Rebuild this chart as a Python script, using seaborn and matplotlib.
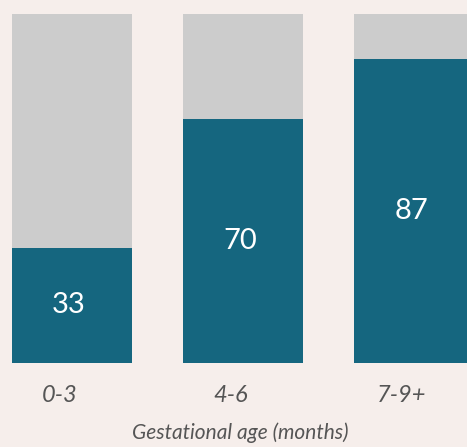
import matplotlib
matplotlib.use("Agg")
import matplotlib.pyplot as plt
import matplotlib.transforms as mtransforms
import seaborn as sns
import pandas as pd

categories = ["0-3", "4-6", "7-9+"]
values = [33, 70, 87]
totals = [100, 100, 100]

BG = "#f6eeeb"
GRAY = "#cccccc"
TEAL = "#15667f"
TXT = "#555555"

sns.set_theme(style="white")
plt.rcParams["font.family"] = ["Lato", "DejaVu Sans"]

df = pd.DataFrame({"cat": categories, "val": values, "tot": totals})

W, H, DPI = 467, 447, 100
fig = plt.figure(figsize=(W / DPI, H / DPI), dpi=DPI, facecolor=BG)
ax = fig.add_axes([0, 84 / H, 1, 349 / H])
ax.set_facecolor(BG)

sns.barplot(data=df, x="cat", y="tot", color=GRAY, width=0.698,
            saturation=1, ax=ax, edgecolor="none")
sns.barplot(data=df, x="cat", y="val", color=TEAL, width=0.698,
            saturation=1, ax=ax, edgecolor="none")

ax.set_xlim(-72 / 171, (467 - 72) / 171)
ax.set_ylim(0, 100)
for s in ax.spines.values():
    s.set_visible(False)
ax.set_yticks([])
ax.set_ylabel("")
ax.tick_params(axis="x", length=0, pad=16, labelsize=17, labelcolor=TXT)
for lab in ax.get_xticklabels():
    lab.set_fontstyle("italic")
    lab.set_transform(lab.get_transform() +
                      mtransforms.ScaledTranslation(-12 / DPI, 0, fig.dpi_scale_trans))
ax.set_xlabel("")
fig.text(240 / W, 4 / H, "Gestational age (months)", fontsize=15,
         fontstyle="italic", color=TXT, ha="center", va="bottom")

for i, v in enumerate(values):
    ax.text(i - 3 / 171, v / 2, str(v), ha="center", va="center",
            fontsize=21, color="white", fontweight="normal")

fig.savefig("out.png", dpi=DPI, facecolor=BG)
